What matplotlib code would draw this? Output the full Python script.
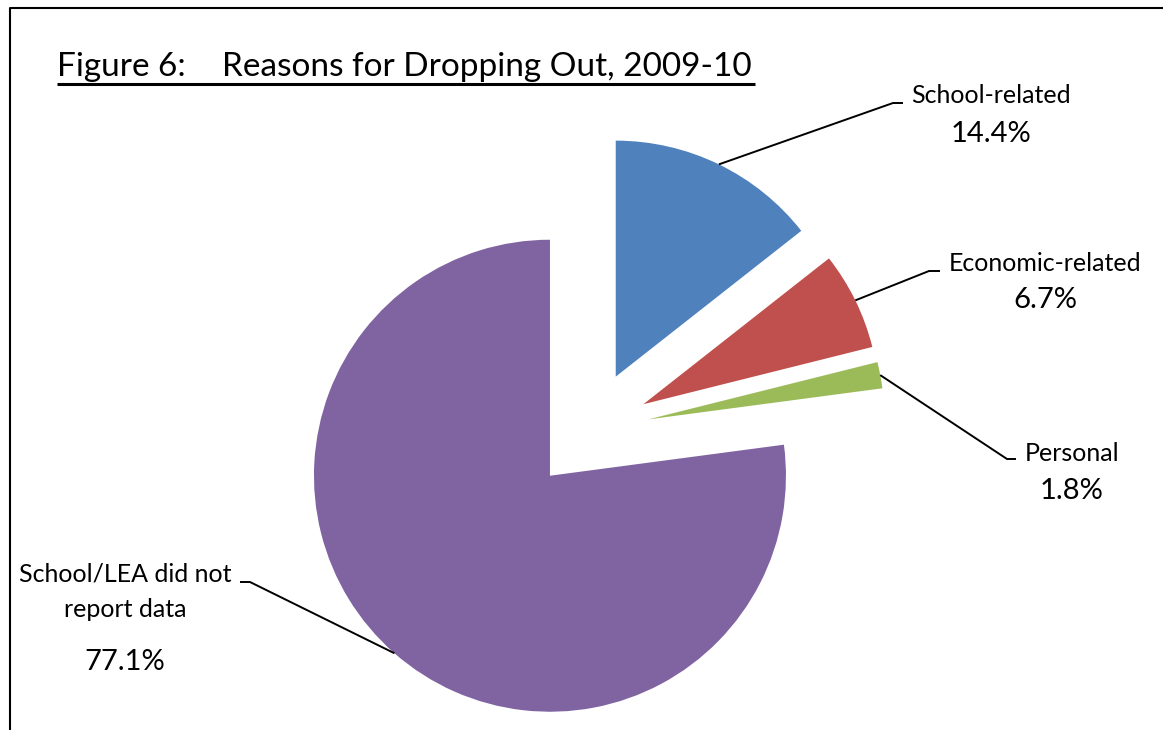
import numpy as np
import matplotlib.pyplot as plt

# data
categories = ["School-related", "Economic-related", "Personal", "School/LEA did not\nreport data"]
shares = [14.4, 6.7, 1.8, 77.1]
colors = ["#4F81BD", "#C0504D", "#9BBB59", "#8064A2"]
title_left = "Figure 6:"
title_right = "Reasons for Dropping Out, 2009-10"

plt.rcParams["font.family"] = ["Lato", "DejaVu Sans"]

W, H = 1163, 730
fig = plt.figure(figsize=(W / 100, H / 100), dpi=100)
ax = fig.add_axes([0, 0, 1, 1])

# pie drawn in pixel-like units (y measured upwards)
radius = 236
explode = [60] * len(shares)
wedges, _ = ax.pie(shares, colors=colors, startangle=90, counterclock=False,
                   explode=explode, radius=radius, center=(589.5, H - 430.6),
                   wedgeprops=dict(linewidth=0))
ax.set_xlim(0, W)
ax.set_ylim(0, H)
ax.axis("off")

# label layout: (elbow, end of leader, name centre x, name baseline, value baseline), image coords
label_pos = [
    ((893, 103), (903, 103), 991, 103, 142),
    ((929, 271), (940, 271), 1045, 271, 308),
    ((1007, 459), (1016, 459), 1072, 461, 499),
    ((250, 582), (240, 582), 125, 582, 670),
]
name_size = 18
value_size = 21
line_step = 35

for w, cat, val, (elbow, end, cx, nb, vb) in zip(wedges, categories, shares, label_pos):
    tm = np.deg2rad((w.theta1 + w.theta2) / 2)
    sx = w.center[0] + w.r * np.cos(tm)
    sy = w.center[1] + w.r * np.sin(tm)
    ax.plot([sx, elbow[0], end[0]], [sy, H - elbow[1], H - end[1]],
            color="black", lw=1.4, solid_capstyle="butt")
    for i, line in enumerate(cat.split("\n")):
        ax.text(cx, H - nb - i * line_step, line, ha="center", va="baseline",
                fontsize=name_size, color="black")
    ax.text(cx, H - vb, f"{val:.1f}%", ha="center", va="baseline",
            fontsize=value_size, color="black")

# title with underline
t1 = ax.text(57, H - 76, title_left, ha="left", va="baseline", fontsize=24)
t2 = ax.text(222, H - 76, title_right, ha="left", va="baseline", fontsize=24)
fig.canvas.draw()
inv = ax.transData.inverted()
x_end = inv.transform(t2.get_window_extent().p1)[0]
ax.plot([57, x_end + 3], [H - 84, H - 84], color="black", lw=2.2,
        solid_capstyle="butt")

# chart frame (only left and top edges fall inside the picture)
ax.plot([10, 10, W + 5], [-5, H - 8, H - 8], color="black", lw=1.5,
        clip_on=False)

fig.savefig("out.png", dpi=100)
